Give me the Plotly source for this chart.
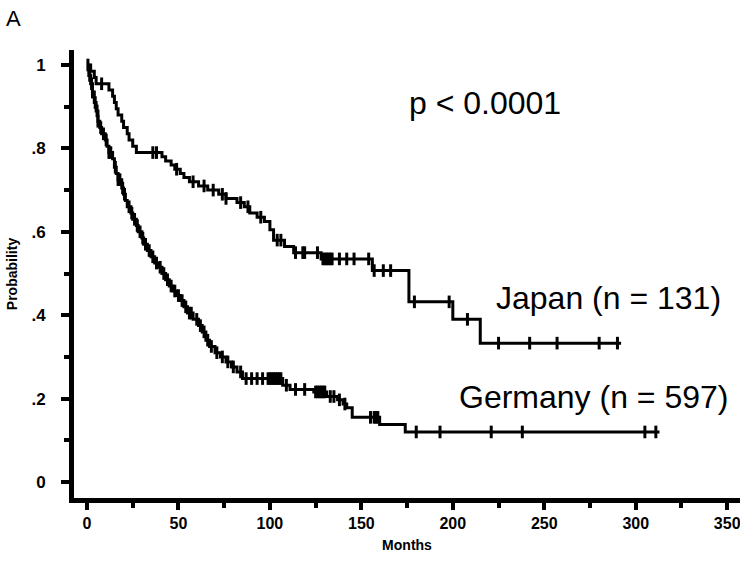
import plotly.graph_objects as go

# ---------------- data ----------------
japan_months = [0, 2, 4, 5, 12, 14, 15, 16, 17, 19, 20, 22, 23, 25, 27, 41, 43, 46, 48, 51, 53, 56, 61, 66,
                72, 76, 82, 86, 89, 93, 97, 100, 102, 108, 113, 128, 156, 176, 200, 215, 292]
japan_surv = [1.0, 0.985, 0.97, 0.955, 0.94, 0.925, 0.91, 0.895, 0.88, 0.865, 0.85, 0.835, 0.82, 0.805, 0.79,
              0.78, 0.77, 0.76, 0.75, 0.74, 0.73, 0.72, 0.71, 0.70, 0.69, 0.68, 0.67, 0.66, 0.645, 0.635,
              0.625, 0.605, 0.58, 0.565, 0.55, 0.535, 0.507, 0.432, 0.39, 0.333, 0.333]
japan_censored = [8, 36, 38, 49, 58, 64, 69, 74, 76, 84, 88, 95, 104, 106, 114, 118, 119, 126, 129, 130, 131,
                  132, 133, 134, 138, 142, 146, 154, 157, 162, 166, 179, 198, 208, 225, 242, 257, 280, 290]

germany_months = [0, 1, 2, 3, 4, 5, 6, 7, 8, 10, 11, 12, 14, 15, 16, 17, 19, 20, 21, 22, 24, 25, 27, 28, 30,
                  31, 33, 35, 37, 39, 41, 43, 45, 47, 49, 51, 53, 55, 58, 61, 63, 65, 67, 70, 73, 76, 79, 82,
                  85, 107, 111, 124, 131, 137, 140, 142, 145, 160, 174, 313]
germany_surv = [1.0, 0.975, 0.955, 0.935, 0.91, 0.89, 0.865, 0.85, 0.835, 0.82, 0.805, 0.79, 0.775, 0.755,
                0.74, 0.725, 0.705, 0.69, 0.675, 0.66, 0.645, 0.63, 0.615, 0.60, 0.585, 0.57, 0.555, 0.54,
                0.525, 0.515, 0.50, 0.485, 0.47, 0.458, 0.447, 0.435, 0.42, 0.405, 0.39, 0.375, 0.36, 0.34,
                0.325, 0.31, 0.30, 0.288, 0.276, 0.264, 0.248, 0.232, 0.222, 0.216, 0.205, 0.197, 0.187,
                0.178, 0.155, 0.138, 0.12, 0.12]
germany_censored = [0.5, 1.5, 2.5, 3, 4.5, 5.5, 6, 7.5, 9, 10.5, 12, 13, 15.5, 17, 18, 19.5, 20.5, 23, 24.5, 26,
                    27.5, 29, 30.5, 32, 34, 36, 38, 40, 42, 44, 46, 48, 50, 52, 54, 56, 57, 60, 62, 64, 66, 68,
                    71, 74, 77, 80, 84, 87, 90, 93, 96, 99, 100, 101, 102, 103, 104, 105, 106, 109, 114, 119,
                    125, 126, 127, 128, 129, 130, 133, 135, 138, 141, 155, 157, 158, 159, 180, 193, 221, 238,
                    305, 311]

y_tick_vals = [0, 0.2, 0.4, 0.6, 0.8, 1.0]
y_tick_text = ["0", ".2", ".4", ".6", ".8", "1"]
y_minor_vals = [0.1, 0.3, 0.5, 0.7, 0.9]
x_tick_vals = [0, 50, 100, 150, 200, 250, 300, 350]
x_minor_vals = [25, 75, 125, 175, 225, 275, 325]


def surv_at(months, surv, t):
    s = surv[0]
    for m, v in zip(months, surv):
        if m <= t:
            s = v
        else:
            break
    return s


fig = go.Figure()
for months, surv, cens in [(japan_months, japan_surv, japan_censored),
                           (germany_months, germany_surv, germany_censored)]:
    fig.add_trace(go.Scatter(x=months, y=surv, mode="lines", line=dict(color="black", width=3, shape="hv"),
                             showlegend=False, hoverinfo="skip"))
    fig.add_trace(go.Scatter(x=cens, y=[surv_at(months, surv, t) for t in cens], mode="markers",
                             marker=dict(symbol="line-ns", size=9, line=dict(color="black", width=3)),
                             showlegend=False, hoverinfo="skip"))

fig.update_layout(
    width=740, height=563,
    margin=dict(l=74, r=0, t=50, b=65),
    paper_bgcolor="white", plot_bgcolor="white",
    xaxis=dict(range=[-7.1, 357], showgrid=False, zeroline=False, automargin=False,
               showline=True, linecolor="black", linewidth=5,
               tickmode="array", tickvals=x_tick_vals, ticktext=[str(v) for v in x_tick_vals],
               ticks="outside", ticklen=7, tickwidth=4, tickcolor="black",
               ticklabeloverflow="allow",
               minor=dict(tickmode="array", tickvals=x_minor_vals, ticks="outside", ticklen=5,
                          tickwidth=4, tickcolor="black", showgrid=False),
               tickfont=dict(family="Liberation Sans", size=16, color="black", weight="bold"),
               title=dict(text="<b>Months</b>", font=dict(family="Liberation Sans", size=14, color="black"),
                          standoff=10)),
    yaxis=dict(range=[-0.0384, 1.036], showgrid=False, zeroline=False, automargin=False,
               showline=True, linecolor="black", linewidth=5,
               tickmode="array", tickvals=y_tick_vals, ticktext=y_tick_text,
               ticks="outside", ticklen=8, tickwidth=4, tickcolor="black",
               minor=dict(tickmode="array", tickvals=y_minor_vals, ticks="outside", ticklen=5,
                          tickwidth=4, tickcolor="black", showgrid=False),
               ticklabelstandoff=12,
               tickfont=dict(family="Liberation Sans", size=17, color="black", weight="bold"),
               title=dict(text="<b>Probability</b>", font=dict(family="Liberation Sans", size=14, color="black"),
                          standoff=12)),
    annotations=[
        dict(text="A", xref="paper", yref="paper", x=(13 - 74) / 666, y=(498 - 18) / 448,
             xanchor="center", yanchor="middle", showarrow=False,
             font=dict(family="Liberation Sans", size=22, color="black")),
        dict(text="p < 0.0001", xref="x", yref="y", x=217.6, y=0.909, showarrow=False,
             font=dict(family="Liberation Sans", size=32, color="black")),
        dict(text="Japan (n = 131)", xref="x", yref="y", x=285, y=0.441, showarrow=False,
             font=dict(family="Liberation Sans", size=32, color="black")),
        dict(text="Germany (n = 597)", xref="x", yref="y", x=277, y=0.204, showarrow=False,
             font=dict(family="Liberation Sans", size=32, color="black")),
    ],
)

fig.write_html("out.html", config={"displayModeBar": False},
               post_script="document.body.style.margin='0';")
